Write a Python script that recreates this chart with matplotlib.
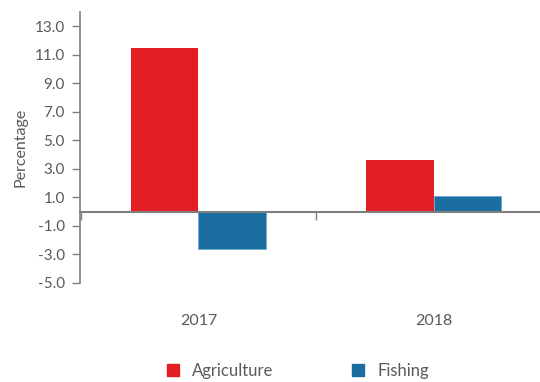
import numpy as np
import matplotlib
matplotlib.use('Agg')
import matplotlib.pyplot as plt
from matplotlib.patches import Patch
from matplotlib.transforms import blended_transform_factory

# values per year
years = ['2017', '2018']
agriculture = [11.5, 3.6]
fishing = [-2.6, 1.1]
y_ticks = [13.0, 11.0, 9.0, 7.0, 5.0, 3.0, 1.0, -1.0, -3.0, -5.0]

RED = '#E31E24'
BLUE = '#1A6FA0'
GREY_TXT = '#595959'
GREY_AX = '#7F7F7F'

plt.rcParams['font.family'] = ['Lato', 'DejaVu Sans']

fig = plt.figure(figsize=(5.4, 3.82), dpi=100)
# axes box in pixel terms: left 80, right 540, top 12, bottom 283
ax = fig.add_axes([80 / 540, (382 - 283) / 382, 460 / 540, 271 / 382])

x = np.arange(len(years))
w = 0.287
ax.bar(x - w / 2, agriculture, w, color=RED, linewidth=0, zorder=2)
ax.bar(x + w / 2, fishing, w, color=BLUE, edgecolor='#6FA8CF', linewidth=0.6, zorder=2)

ax.set_yticks(y_ticks)
ax.set_yticklabels([f'{v:.1f}' for v in y_ticks])
ax.tick_params(axis='y', direction='out', length=6, width=1, color=GREY_AX,
               labelcolor=GREY_TXT, labelsize=11, pad=5)

for side in ('top', 'right'):
    ax.spines[side].set_visible(False)
ax.spines['left'].set_color(GREY_AX)
ax.spines['left'].set_linewidth(1.2)
ax.spines['bottom'].set_position(('data', 0))
ax.spines['bottom'].set_color(GREY_AX)
ax.spines['bottom'].set_linewidth(1.5)
ax.spines['bottom'].set_zorder(3)

# category separators on the zero line, year labels below the plot
ax.set_xticks([-0.5, 0.5, 1.5])
ax.set_xticklabels([])
ax.tick_params(axis='x', direction='out', length=6, width=1, color=GREY_AX)

# limits after set_xticks, otherwise the ticks widen the view
ax.set_ylim(-5, 14.0)
ax.set_xlim(-0.504, 1.453)

trans = blended_transform_factory(ax.transData, ax.transAxes)
for xi, yr in zip(x, years):
    ax.text(xi, -0.14, yr, transform=trans, ha='center', va='center',
            fontsize=11.5, color=GREY_TXT)

ax.set_ylabel('Percentage', fontsize=11.5, color=GREY_TXT, labelpad=5)

handles = [Patch(color=RED), Patch(color=BLUE)]
fig.legend(handles, ['Agriculture', 'Fishing'], loc='center',
           bbox_to_anchor=(298 / 540, 1 - 371 / 382), ncol=2, frameon=False,
           handlelength=0.7, handleheight=0.7, handletextpad=0.8,
           columnspacing=4.7, fontsize=12, labelcolor=GREY_TXT,
           borderpad=0.2)

fig.savefig('out.png', dpi=100)
